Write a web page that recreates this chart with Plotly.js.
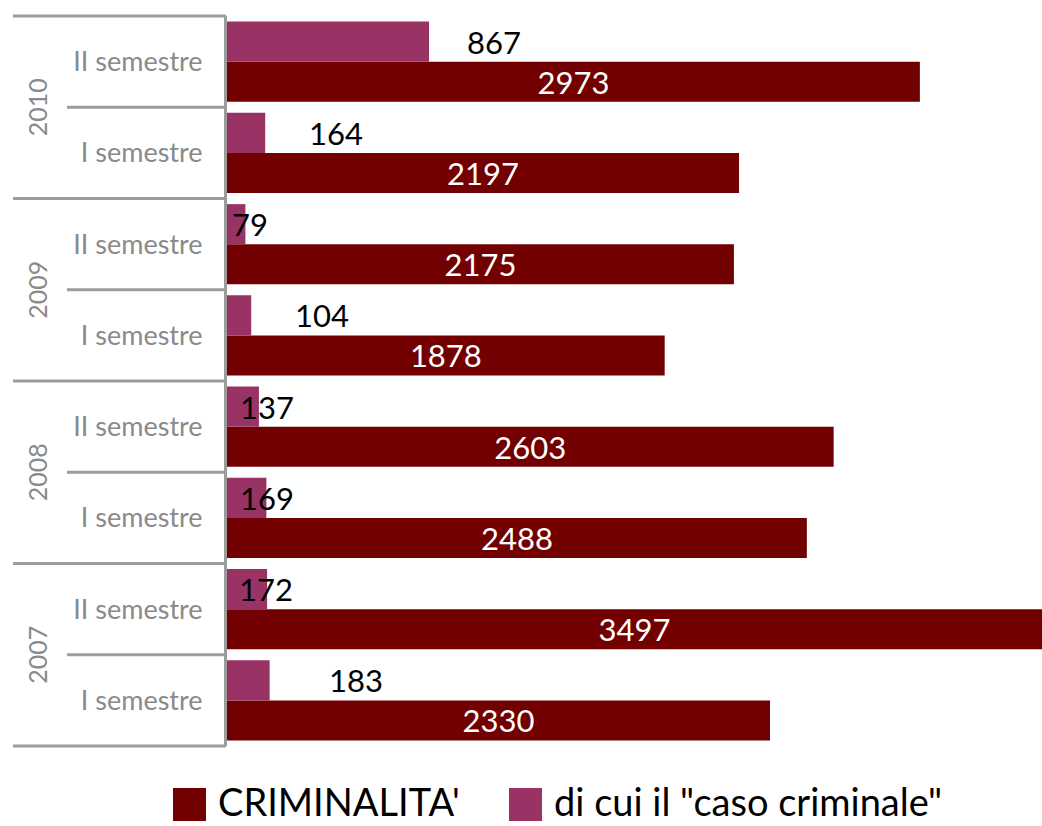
<!DOCTYPE html>
<html>
<head>
<meta charset="utf-8">
<script src="https://cdn.plot.ly/plotly-3.0.1.min.js"></script>
<style>html,body{margin:0;padding:0;background:#fff;}#chart{width:1042px;height:826px;}</style>
</head>
<body>
<div id="chart"></div>
<script>
// Data (bottom to top)
const semesters = ['I semestre','II semestre','I semestre','II semestre','I semestre','II semestre','I semestre','II semestre'];
const years = ['2007','2008','2009','2010'];
const criminalita = [2330, 3497, 2488, 2603, 1878, 2175, 2197, 2973];
const casoCriminale = [183, 172, 169, 137, 104, 79, 164, 867];
const seriesNames = ["CRIMINALITA'", 'di cui il "caso criminale"'];

// Styles
const colRed = '#720000';
const colMag = '#993366';
const lineGrey = '#9c9c9c';
const fontFam = 'Lato, "DejaVu Sans", sans-serif';
const labelShift = [57, -30, -28, -21, 42, -15, 42, 36];

const idx = semesters.map((_, i) => i);
const n = semesters.length;
const bargap = 0.123;
const L = 227, W = 815, T = 16, H = 730;
const px2x = p => (p - L) / W;
const py2y = p => (T + H - p) / H;

const traces = [
  {
    type: 'bar', orientation: 'h', name: seriesNames[0],
    x: criminalita, y: idx, marker: {color: colRed},
    text: criminalita.map(String), textposition: 'inside', insidetextanchor: 'middle',
    constraintext: 'none',
    textfont: {color: '#ffffff', size: 31, family: fontFam},
    hoverinfo: 'x', showlegend: false
  },
  {
    type: 'bar', orientation: 'h', name: seriesNames[1],
    x: casoCriminale, y: idx, marker: {color: colMag},
    textposition: 'none', hoverinfo: 'x', showlegend: false
  }
];

const annotations = [];
const shapes = [];
// labels for the "caso criminale" series
casoCriminale.forEach((v, i) => {
  annotations.push({
    x: v, y: i + (1 - bargap) / 4, xref: 'x', yref: 'y',
    text: String(v), showarrow: false, xanchor: 'left', yanchor: 'middle',
    xshift: labelShift[i], font: {color: '#000000', size: 31, family: fontFam}
  });
});
// year labels
years.forEach((yr, k) => {
  annotations.push({
    x: px2x(37), y: (2 * k + 1) / n, xref: 'paper', yref: 'paper',
    text: yr, showarrow: false, textangle: -90, xanchor: 'center', yanchor: 'middle',
    font: {color: '#8a8a8a', size: 25, family: fontFam}
  });
});
// divider lines
for (let b = 0; b <= n; b++) {
  const isYear = (b % 2 === 0);
  shapes.push({
    type: 'line', xref: 'paper', yref: 'paper',
    x0: px2x(isYear ? 13 : 67), x1: px2x(226), y0: b / n, y1: b / n,
    line: {color: lineGrey, width: 3}
  });
}
// manual legend
const legendItems = [
  {name: seriesNames[0], color: colRed, sx: 173, tx: 216},
  {name: seriesNames[1], color: colMag, sx: 509, tx: 552}
];
legendItems.forEach(it => {
  shapes.push({
    type: 'rect', xref: 'paper', yref: 'paper',
    x0: px2x(it.sx), x1: px2x(it.sx + 33), y0: py2y(788), y1: py2y(821),
    fillcolor: it.color, line: {width: 0}
  });
  annotations.push({
    x: px2x(it.tx), y: py2y(801), xref: 'paper', yref: 'paper',
    text: it.name, showarrow: false, xanchor: 'left', yanchor: 'middle',
    font: {color: '#000000', size: 38, family: fontFam}
  });
});

const layout = {
  width: 1042, height: 826,
  margin: {l: L, r: 1042 - L - W, t: T, b: 826 - T - H, pad: 0},
  paper_bgcolor: '#ffffff', plot_bgcolor: '#ffffff',
  barmode: 'group', bargap: bargap, bargroupgap: 0,
  showlegend: false,
  xaxis: {range: [0, 3497], visible: false, fixedrange: true},
  yaxis: {
    range: [-0.5, n - 0.5], tickvals: idx, ticktext: semesters,
    showgrid: false, zeroline: false, ticks: '',
    showline: true, linecolor: lineGrey, linewidth: 3,
    ticklabelstandoff: 16,
    tickfont: {color: '#8a8a8a', size: 27, family: fontFam}, fixedrange: true
  },
  annotations: annotations, shapes: shapes,
  font: {family: fontFam}
};

Plotly.newPlot('chart', traces, layout, {displayModeBar: false, staticPlot: true});
</script>
</body>
</html>
